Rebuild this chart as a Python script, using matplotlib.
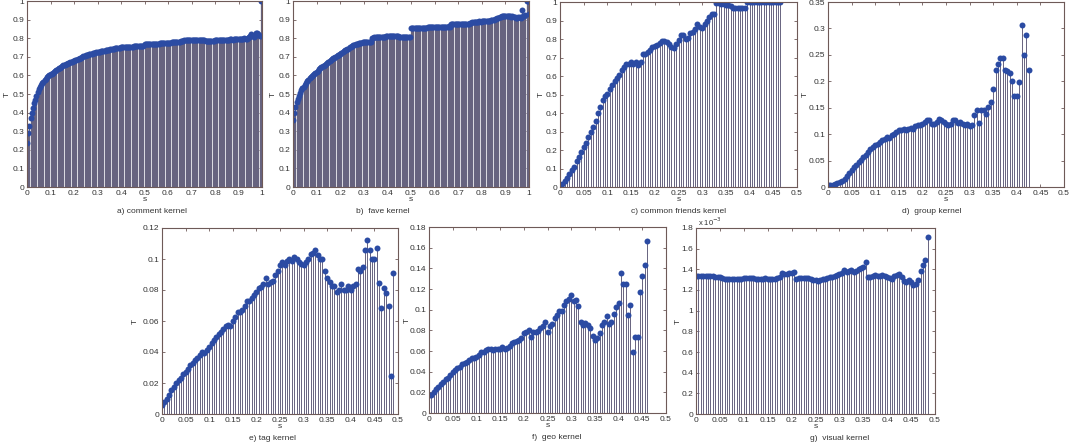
import numpy as np
import matplotlib
matplotlib.use("Agg")
import matplotlib.pyplot as plt

W, H = 1073, 448

# a) comment kernel, s = 0 .. 1 step 0.005
a_T = [0.235, 0.29, 0.33, 0.37, 0.40, 0.425, 0.45, 0.47, 0.49, 0.51, 0.525, 0.537, 0.548, 0.558, 0.567, 0.575, 0.582, 0.589, 0.595, 0.60,
       0.605, 0.61, 0.615, 0.62, 0.625, 0.63, 0.634, 0.638, 0.642, 0.646, 0.65, 0.654, 0.657, 0.66, 0.663, 0.666, 0.669, 0.671, 0.673, 0.676,
       0.678, 0.681, 0.684, 0.687, 0.69, 0.693, 0.696, 0.699, 0.702, 0.705, 0.707, 0.709, 0.711, 0.713, 0.715, 0.717, 0.719, 0.721, 0.722, 0.724,
       0.725, 0.727, 0.728, 0.729, 0.731, 0.732, 0.733, 0.734, 0.736, 0.737, 0.739, 0.74, 0.741, 0.742, 0.743, 0.745, 0.746, 0.747, 0.748, 0.749,
       0.75, 0.75, 0.751, 0.752, 0.752, 0.753, 0.753, 0.754, 0.754, 0.755, 0.755, 0.756, 0.756, 0.756, 0.757, 0.757, 0.757, 0.757, 0.756, 0.758,
       0.77, 0.771, 0.77, 0.769, 0.769, 0.768, 0.768, 0.769, 0.769, 0.77, 0.77, 0.771, 0.771, 0.772, 0.772, 0.773, 0.773, 0.774, 0.774, 0.775,
       0.775, 0.776, 0.776, 0.777, 0.777, 0.778, 0.778, 0.779, 0.78, 0.781, 0.782, 0.783, 0.785, 0.787, 0.788, 0.789, 0.79, 0.79, 0.791, 0.791,
       0.792, 0.791, 0.79, 0.791, 0.79, 0.789, 0.79, 0.789, 0.788, 0.789, 0.789, 0.788, 0.787, 0.786, 0.785, 0.786, 0.787, 0.786, 0.786, 0.787,
       0.788, 0.789, 0.788, 0.789, 0.79, 0.791, 0.791, 0.79, 0.791, 0.792, 0.791, 0.792, 0.793, 0.795, 0.794, 0.792, 0.795, 0.797, 0.796, 0.794,
       0.797, 0.798, 0.796, 0.795, 0.798, 0.8, 0.798, 0.797, 0.8, 0.804, 0.81, 0.82, 0.812, 0.805, 0.812, 0.828, 0.83, 0.82, 0.812, 1.0,
       0.81]

# b) fave kernel, s = 0 .. 1 step 0.005
b_T = [0.36, 0.40, 0.43, 0.455, 0.475, 0.49, 0.505, 0.52, 0.53, 0.54, 0.55, 0.56, 0.568, 0.576, 0.584, 0.592, 0.598, 0.604, 0.61, 0.615,
       0.62, 0.626, 0.632, 0.638, 0.643, 0.648, 0.653, 0.658, 0.663, 0.668, 0.673, 0.678, 0.683, 0.687, 0.691, 0.695, 0.699, 0.703, 0.707, 0.71,
       0.713, 0.718, 0.725, 0.73, 0.735, 0.738, 0.74, 0.742, 0.75, 0.755, 0.76, 0.763, 0.765, 0.767, 0.768, 0.77, 0.773, 0.775, 0.776, 0.777,
       0.778, 0.778, 0.779, 0.78, 0.78, 0.781, 0.781, 0.802, 0.803, 0.804, 0.804, 0.805, 0.805, 0.806, 0.807, 0.807, 0.808, 0.808, 0.809, 0.81,
       0.81, 0.811, 0.811, 0.812, 0.812, 0.812, 0.813, 0.813, 0.812, 0.812, 0.806, 0.806, 0.805, 0.805, 0.806, 0.805, 0.806, 0.805, 0.806, 0.806,
       0.853, 0.854, 0.855, 0.854, 0.855, 0.855, 0.854, 0.855, 0.856, 0.856, 0.857, 0.856, 0.857, 0.857, 0.858, 0.858, 0.859, 0.859, 0.86, 0.86,
       0.858, 0.859, 0.86, 0.859, 0.86, 0.861, 0.86, 0.861, 0.862, 0.861, 0.862, 0.862, 0.863, 0.862, 0.878, 0.879, 0.878, 0.877, 0.877, 0.878,
       0.877, 0.876, 0.877, 0.877, 0.878, 0.877, 0.878, 0.879, 0.878, 0.879, 0.88, 0.881, 0.885, 0.887, 0.888, 0.889, 0.888, 0.889, 0.89, 0.889,
       0.89, 0.891, 0.89, 0.891, 0.892, 0.891, 0.893, 0.895, 0.896, 0.898, 0.9, 0.903, 0.905, 0.908, 0.91, 0.913, 0.915, 0.917, 0.92, 0.918,
       0.918, 0.92, 0.921, 0.919, 0.917, 0.916, 0.918, 0.915, 0.912, 0.91, 0.908, 0.912, 0.915, 0.91, 0.95, 0.92, 0.92, 0.925, 1.0, 1.0,
       0.93]

# c) common friends kernel, s = 0 .. 0.465
c_T = [0.007, 0.016, 0.03, 0.05, 0.07, 0.09, 0.11, 0.14, 0.16, 0.19,
       0.215, 0.24, 0.27, 0.295, 0.325, 0.355, 0.40, 0.43, 0.47, 0.49,
       0.505, 0.53, 0.55, 0.575, 0.587, 0.605, 0.63, 0.65, 0.665, 0.667,
       0.677, 0.667, 0.677, 0.66, 0.675, 0.72, 0.72, 0.73, 0.74, 0.755,
       0.76, 0.765, 0.78, 0.79, 0.79, 0.785, 0.775, 0.757, 0.754, 0.775,
       0.793, 0.82, 0.82, 0.80, 0.807, 0.83, 0.838, 0.856, 0.88, 0.866,
       0.857, 0.883, 0.897, 0.92, 0.937, 0.937, 0.995, 0.995, 0.99, 0.987,
       0.982, 0.982, 0.977, 0.97, 0.965, 0.965, 0.965, 0.965, 0.965, 1.0,
       1.0, 1.0, 1.0, 1.0, 1.0, 1.0, 1.0, 1.0, 1.0, 1.0, 1.0, 1.0, 1.0, 1.0]

# d) group kernel, s = 0 .. 0.425
d_T = [0.003, 0.003, 0.004, 0.005, 0.007, 0.009, 0.012, 0.016, 0.021, 0.026,
       0.032, 0.037, 0.042, 0.047, 0.052, 0.057, 0.061, 0.066, 0.071, 0.076,
       0.079, 0.082, 0.085, 0.088, 0.091, 0.095, 0.093, 0.098, 0.101, 0.105,
       0.107, 0.108, 0.11, 0.108, 0.11, 0.112, 0.11, 0.115, 0.118, 0.117,
       0.12, 0.123, 0.127, 0.127, 0.12, 0.119, 0.123, 0.129, 0.126, 0.123,
       0.119, 0.117, 0.12, 0.127, 0.126, 0.121, 0.123, 0.12, 0.118, 0.12,
       0.116, 0.117, 0.136, 0.145, 0.121, 0.145, 0.146, 0.139, 0.151, 0.161,
       0.186, 0.222, 0.233, 0.245, 0.245, 0.222, 0.219, 0.216, 0.20, 0.173,
       0.173, 0.199, 0.306, 0.25, 0.287, 0.222]

# e) tag kernel, s = 0 .. 0.49
e_T = [0.0058, 0.008, 0.010, 0.012, 0.0155, 0.0176, 0.0197, 0.022, 0.0234, 0.0255,
       0.0273, 0.029, 0.0316, 0.033, 0.0348, 0.0363, 0.038, 0.0397, 0.0395, 0.041,
       0.043, 0.0455, 0.0477, 0.0498, 0.0513, 0.053, 0.055, 0.057, 0.0573, 0.057,
       0.06, 0.0627, 0.066, 0.066, 0.067, 0.0696, 0.073, 0.073, 0.075, 0.0766,
       0.079, 0.081, 0.082, 0.084, 0.088, 0.084, 0.085, 0.086, 0.0895, 0.092,
       0.0964, 0.098, 0.0964, 0.099, 0.1, 0.099, 0.101, 0.1, 0.098, 0.097,
       0.0964, 0.098, 0.1, 0.103, 0.104, 0.1056, 0.1024, 0.1, 0.1, 0.092,
       0.088, 0.085, 0.0826, 0.0826, 0.0786, 0.08, 0.084, 0.08, 0.08, 0.0826,
       0.08, 0.0826, 0.084, 0.0934, 0.092, 0.095, 0.106, 0.1125, 0.1056, 0.1,
       0.1, 0.107, 0.0846, 0.0685, 0.081, 0.078, 0.0697, 0.0243, 0.091]

# f) geo kernel, s = 0 .. 0.46
f_T = [0.0172, 0.0178, 0.0204, 0.023, 0.0252, 0.0285, 0.030, 0.0333, 0.0343, 0.0366,
       0.04, 0.0414, 0.0437, 0.0447, 0.047, 0.048, 0.0495, 0.051, 0.0528, 0.0537,
       0.0544, 0.0566, 0.059, 0.059, 0.061, 0.062, 0.062, 0.061, 0.0615, 0.0615,
       0.062, 0.0635, 0.0615, 0.063, 0.065, 0.0673, 0.069, 0.0696, 0.0706, 0.0728,
       0.077, 0.0787, 0.080, 0.0738, 0.0787, 0.0787, 0.079, 0.0825, 0.0845, 0.0877,
       0.078, 0.084, 0.086, 0.0916, 0.0948, 0.0987, 0.0987, 0.105, 0.108, 0.110,
       0.114, 0.108, 0.1094, 0.1036, 0.0877, 0.085, 0.0867, 0.085, 0.082, 0.0748,
       0.0706, 0.0722, 0.077, 0.085, 0.0884, 0.094, 0.0858, 0.0884, 0.0958, 0.1023,
       0.1062, 0.1353, 0.125, 0.125, 0.0948, 0.1046, 0.0586, 0.0738, 0.0738, 0.1175,
       0.133, 0.1428, 0.1667]

# g) visual kernel (x 10^-3), s = 0 .. 0.485
g_T = [1.336, 1.335, 1.334, 1.334, 1.333, 1.333, 1.332, 1.331, 1.330, 1.329,
       1.326, 1.318, 1.308, 1.304, 1.303, 1.303, 1.305, 1.307, 1.309, 1.311,
       1.313, 1.314, 1.313, 1.312, 1.313, 1.310, 1.308, 1.309, 1.311, 1.312,
       1.310, 1.309, 1.308, 1.310, 1.316, 1.328, 1.365, 1.358, 1.352, 1.362,
       1.368, 1.370, 1.310, 1.312, 1.314, 1.316, 1.315, 1.313, 1.308, 1.300,
       1.292, 1.285, 1.294, 1.302, 1.310, 1.318, 1.326, 1.330, 1.336, 1.343,
       1.352, 1.368, 1.390, 1.375, 1.385, 1.390, 1.375, 1.382, 1.400, 1.413,
       1.423, 1.471, 1.326, 1.330, 1.333, 1.349, 1.340, 1.333, 1.349, 1.340,
       1.326, 1.318, 1.310, 1.333, 1.345, 1.358, 1.326, 1.285, 1.278, 1.294,
       1.275, 1.252, 1.262, 1.294, 1.381, 1.445, 1.487, 1.713]

panels = [
    # data, step, xmax, xtick step, ymax, ytick step, caption, caption x, box (l, r, top, bottom) px, T offset px
    (a_T, 0.005, 1.0, 0.1, 1.0, 0.1, "a) comment kernel", 0.53, (27, 262, 1, 187), 19),
    (b_T, 0.005, 1.0, 0.1, 1.0, 0.1, "b)  fave kernel", 0.38, (293, 529, 1, 187), 19),
    (c_T, 0.005, 0.5, 0.05, 1.0, 0.1, "c) common friends kernel", 0.5, (560, 797, 2, 187), 18),
    (d_T, 0.005, 0.5, 0.05, 0.35, 0.05, "d)  group kernel", 0.44, (828, 1064, 2, 187), 22),
    (e_T, 0.005, 0.5, 0.05, 0.12, 0.02, "e) tag kernel", 0.47, (162, 398, 228, 414), 26),
    (f_T, 0.005, 0.5, 0.05, 0.18, 0.02, "f)  geo kernel", 0.54, (429, 666, 227, 413), 21),
    (g_T, 0.005, 0.5, 0.05, 1.8, 0.2, "g)  visual kernel", 0.6, (696, 935, 228, 414), 17),
]

stem_col = "#67637f"
mark_col = "#2b4ba3"
frame_col = "#6e5a58"
txt_col = "#333333"

plt.rcParams["font.family"] = ["Liberation Sans", "DejaVu Sans"]

fig = plt.figure(figsize=(W / 100, H / 100), dpi=100)

for T, step, xmax, xstep, ymax, ystep, cap, capx, box, toff in panels:
    l, r, t, b = box
    ax = fig.add_axes([l / W, (H - b) / H, (r - l) / W, (b - t) / H])
    s = np.round(np.arange(len(T)) * step, 4)
    dense = xmax > 0.6
    ml, sl, bl = ax.stem(s, T, basefmt=" ")
    plt.setp(sl, color=stem_col, linewidth=0.9 if dense else 0.7)
    plt.setp(ml, color=mark_col, markersize=4.3, markeredgewidth=0)
    ax.set_xlim(0, xmax)
    ax.set_ylim(0, ymax)
    xt = np.round(np.arange(0, xmax + xstep / 2, xstep), 3)
    yt = np.round(np.arange(0, ymax + ystep / 2, ystep), 3)
    ax.set_xticks(xt)
    ax.set_yticks(yt)
    ax.set_xticklabels(["%g" % v for v in xt])
    ax.set_yticklabels(["%g" % v for v in yt])
    ax.tick_params(direction="in", length=2.5, width=0.6, top=True, right=True,
                   labelsize=6, labelcolor=txt_col, color=frame_col, pad=2)
    for sp in ax.spines.values():
        sp.set_color(frame_col)
        sp.set_linewidth(0.8)
    wpx = r - l
    hpx = b - t
    ax.set_xlabel("s", fontsize=6, color=txt_col)
    ax.xaxis.set_label_coords(0.5, -9 / hpx)
    ax.set_ylabel("T", fontsize=6, color=txt_col)
    ax.yaxis.set_label_coords(-(toff - 3) / wpx, 0.5)
    ax.text(capx, -24 / hpx, cap, transform=ax.transAxes, ha="center", va="center",
            fontsize=6, color=txt_col)
    if cap.startswith("g"):
        ax.text(0.01, 1.0, r"x 10$^{-3}$", transform=ax.transAxes, ha="left", va="bottom",
                fontsize=5.5, color=txt_col)

fig.savefig("out.png", dpi=100)
